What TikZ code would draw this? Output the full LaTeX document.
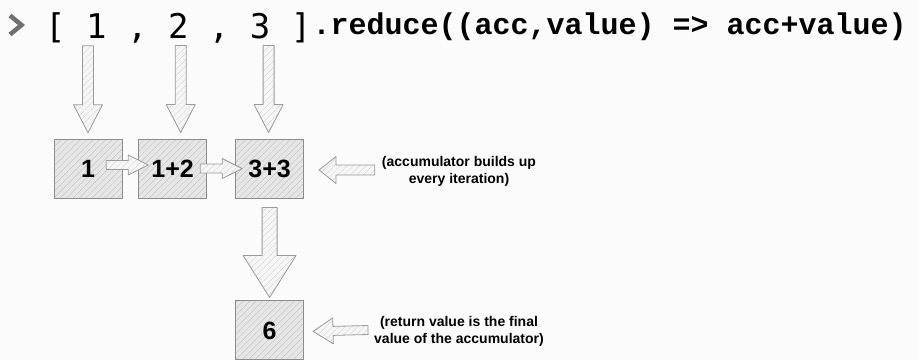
\documentclass[tikz,border=0pt]{standalone}
\usepackage{fontspec}
\usetikzlibrary{calc,positioning,patterns.meta}
\newfontfamily\arrfont{DejaVu Sans Mono}
\newfontfamily\callfont{Liberation Mono}
\newfontfamily\notefont{Liberation Sans}

\definecolor{bgcol}{HTML}{FBFBFB}
\definecolor{boxfill}{HTML}{E6E6E6}
\definecolor{boxhatch}{HTML}{C6C6C6}
\definecolor{boxline}{HTML}{8C8C8C}
\definecolor{arrowfill}{HTML}{F6F6F6}
\definecolor{arrowhatch}{HTML}{D9D9D9}
\definecolor{arrowline}{HTML}{9A9A9A}
\definecolor{promptcol}{HTML}{707070}

\tikzstyle{box} = [draw=boxline, line width=0.9pt, minimum width=68pt, minimum height=59pt, inner sep=0pt, preaction={fill=boxfill}, pattern={Lines[angle=45,distance=4.5pt,line width=0.5pt]}, pattern color=boxhatch, font=\notefont\bfseries\fontsize{25}{25}\selectfont]
\tikzstyle{fat} = [draw=arrowline, line width=0.8pt, line join=round, preaction={fill=arrowfill}, pattern={Lines[angle=45,distance=4.5pt,line width=0.5pt]}, pattern color=arrowhatch]
\tikzstyle{note} = [align=center, inner sep=2pt, font=\notefont\bfseries\fontsize{14}{17}\selectfont]
\tikzstyle{prompt} = [draw=promptcol, line width=4.5pt]

% fat hollow arrow: from, to, half shaft, half head, head length
\newcommand{\fatarrow}[5]{%
  \coordinate (hb) at ($(#2)!#5!(#1)$);
  \draw[fat] ($(#1)!#3!90:(#2)$) -- ($(hb)!#3!90:(#2)$) -- ($(hb)!#4!90:(#2)$) -- (#2)
    -- ($(hb)!#4!-90:(#2)$) -- ($(hb)!#3!-90:(#2)$) -- ($(#1)!#3!-90:(#2)$) -- cycle;}

\begin{document}
\begin{tikzpicture}[x=1pt, y=-1pt]
\path[fill=bgcol, use as bounding box] (0,0) rectangle (918,360);

\draw[prompt] (10,15.5) -- (21.5,25) -- (10,34.5);
\node[anchor=base west, inner sep=0pt, font=\arrfont\fontsize{34}{34}\selectfont] (arr) at (45,38) {[ 1 , 2 , 3 ]};
\node[anchor=base west, inner sep=0pt, font=\callfont\bfseries\fontsize{30}{30}\selectfont] (call) at ($(arr.base east)+(1,-4)$) {.reduce((acc,value) => acc+value)};

\node[box] (b1) at (88,168.5) {1};
\node[box, right=16pt of b1] (b2) {1+2};
\node[box, right=28pt of b2] (b3) {3+3};
\node[box, below=102pt of b3] (b6) {6};

\node[note] (acc) at (459,171) {(accumulator builds up\\every iteration)};
\node[note] (ret) at (459,331) {(return value is the final\\value of the accumulator)};

\foreach \i/\dx in {1/0,2/8,3/-1} {
  \coordinate (s\i) at ($(b\i.north)+(\dx,-93)$);
  \coordinate (t\i) at ($(b\i.north)+(\dx,-6)$);
  \fatarrow{s\i}{t\i}{5.5pt}{14.5pt}{28pt}
}

\coordinate (p1) at ($(b1.east)+(-16,-3.5)$);
\coordinate (q1) at ($(b2.west)+(10,-3.5)$);
\fatarrow{p1}{q1}{4.5pt}{10pt}{20pt}
\coordinate (p2) at ($(b2.east)+(-7,0)$);
\coordinate (q2) at ($(b3.west)+(7,0)$);
\fatarrow{p2}{q2}{4.5pt}{10pt}{20pt}

\coordinate (p3) at ($(acc.west)+(-5,-1)$);
\coordinate (q3) at ($(b3.east)+(15,1.5)$);
\fatarrow{p3}{q3}{5pt}{13.5pt}{17pt}

\coordinate (p4) at ($(b3.south)+(0,9)$);
\coordinate (q4) at ($(b6.north)+(0,-3)$);
\fatarrow{p4}{q4}{7.5pt}{26.5pt}{42pt}

\coordinate (p5) at ($(ret.west)+(-4,-1)$);
\coordinate (q5) at ($(b6.east)+(9,1)$);
\fatarrow{p5}{q5}{4.5pt}{13pt}{20pt}
\end{tikzpicture}
\end{document}
